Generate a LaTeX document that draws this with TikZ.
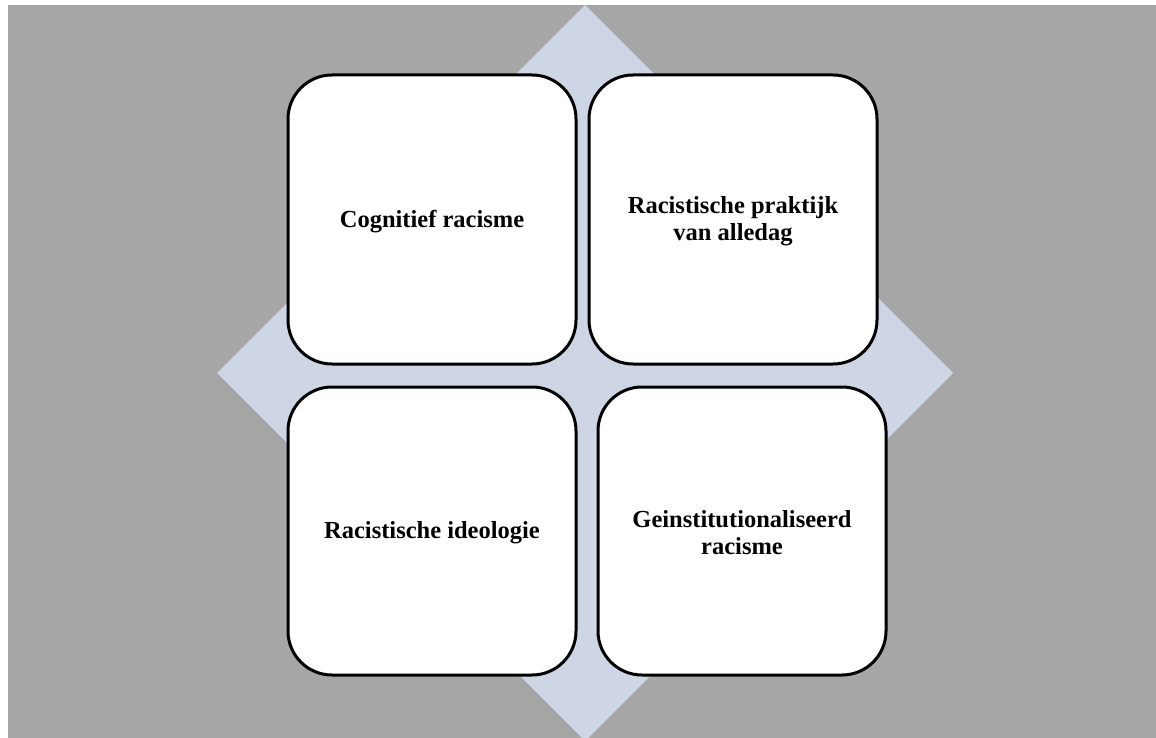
\documentclass[tikz,border=0pt]{standalone}
\usepackage{fontspec}
\setmainfont{Liberation Serif}
\definecolor{bggrey}{HTML}{A6A6A6}
\definecolor{diafill}{HTML}{CED6E5}
\begin{document}
\begin{tikzpicture}[x=1pt,y=-1pt,
  quad/.style={draw=black,line width=3pt,fill=white,rounded corners=44pt},
  lbl/.style={font=\fontsize{24.5}{27}\selectfont\bfseries,align=center}]
\useasboundingbox (0,0) rectangle (1156,738);
\fill[white] (0,0) rectangle (1156,738);
\fill[bggrey] (8,5) rectangle (1156,738);
\begin{scope}
\clip (8,5) rectangle (1156,738);
\fill[diafill] (585,5) -- (953,373) -- (585,741) -- (217,373) -- cycle;
\end{scope}
\draw[quad] (288,75) rectangle (576,364);
\draw[quad] (589,75) rectangle (877,364);
\draw[quad] (288,387) rectangle (576,675);
\draw[quad] (598,387) rectangle (886,675);
\node[lbl] (a) at (432,222) {Cognitief racisme};
\node[lbl] (b) at (733,221) {Racistische praktijk\\van alledag};
\node[lbl] (c) at (432,533) {Racistische ideologie};
\node[lbl] (d) at (742,533) {Geinstitutionaliseerd\\racisme};
\end{tikzpicture}
\end{document}
